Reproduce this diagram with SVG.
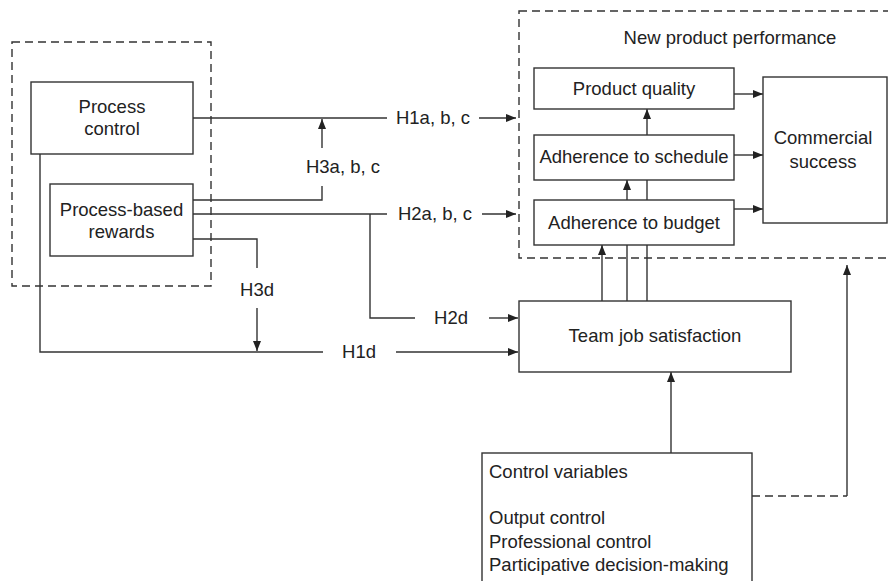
<svg xmlns="http://www.w3.org/2000/svg" width="888" height="581" viewBox="0 0 888 581">
<style>
text{font-family:"Liberation Sans",Arial,sans-serif;font-size:18.5px;fill:#222}
.c{text-anchor:middle}
.box{fill:#fff;stroke:#333;stroke-width:1.4}
.dash{fill:none;stroke:#333;stroke-width:1.4;stroke-dasharray:8,5}
.ln{fill:none;stroke:#333;stroke-width:1.4}
.ar{fill:none;stroke:#333;stroke-width:1.4;marker-end:url(#ah)}
</style>
<defs>
<marker id="ah" markerWidth="10" markerHeight="8" refX="10" refY="4" orient="auto" markerUnits="userSpaceOnUse"><path d="M0,0 L10,4 L0,8 z" fill="#222"/></marker>
</defs>
<rect width="888" height="581" fill="#fff"/>
<g id="connectors">
<path class="ln" d="M193,118 H387"/>
<path class="ar" d="M479,118 H516"/>
<path class="ln" d="M193,200 H322 V186"/>
<path class="ar" d="M322,148 V119"/>
<path class="ln" d="M193,214 H387"/>
<path class="ar" d="M482,214 H516"/>
<path class="ln" d="M370,214 V318 H415"/>
<path class="ar" d="M489,318 H518"/>
<path class="ln" d="M193,239 H257 V268"/>
<path class="ar" d="M257,308 V351"/>
<path class="ln" d="M40,154 V352 H323"/>
<path class="ar" d="M396,352 H518"/>
<path class="ar" d="M602,301 V245"/>
<path class="ar" d="M627,301 V180"/>
<path class="ar" d="M647,301 V109"/>
<path class="ar" d="M734,94 H763"/>
<path class="ar" d="M734,155 H763"/>
<path class="ar" d="M734,209 H763"/>
<path class="ar" d="M671,453 V372"/>
<path class="dash" d="M752,496 H847"/>
<path class="ar" d="M847,496 V265"/>
</g>
<g id="labels">
<text class="c" x="433" y="124">H1a, b, c</text>
<text class="c" x="343" y="173">H3a, b, c</text>
<text class="c" x="435" y="220">H2a, b, c</text>
<text class="c" x="451" y="324">H2d</text>
<text class="c" x="359" y="358">H1d</text>
<text class="c" x="257" y="296">H3d</text>
</g>
<g id="left-group">
<rect class="dash" x="12" y="42" width="199" height="244"/>
</g>
<g id="process-control">
<rect class="box" x="31" y="82" width="162" height="72"/>
<text class="c" x="112" y="113">Process</text>
<text class="c" x="112" y="135">control</text>
</g>
<g id="process-based-rewards">
<rect class="box" x="50" y="184" width="143" height="72"/>
<text class="c" x="121.5" y="216">Process-based</text>
<text class="c" x="121.5" y="238">rewards</text>
</g>
<g id="new-product-performance">
<rect class="dash" x="519" y="11" width="372" height="247"/>
<text class="c" x="730" y="44">New product performance</text>
</g>
<g id="product-quality">
<rect class="box" x="534" y="68" width="200" height="41"/>
<text class="c" x="634" y="95">Product quality</text>
</g>
<g id="adherence-schedule">
<rect class="box" x="534" y="135" width="200" height="45"/>
<text class="c" x="634" y="163">Adherence to schedule</text>
</g>
<g id="adherence-budget">
<rect class="box" x="534" y="200" width="200" height="45"/>
<text class="c" x="634" y="229">Adherence to budget</text>
</g>
<g id="commercial-success">
<rect class="box" x="763" y="77" width="124" height="146"/>
<text class="c" x="823" y="144">Commercial</text>
<text class="c" x="823" y="168">success</text>
</g>
<g id="team-job-satisfaction">
<rect class="box" x="519" y="301" width="272" height="71"/>
<text class="c" x="655" y="342">Team job satisfaction</text>
</g>
<g id="control-variables">
<rect class="box" x="482" y="453" width="270" height="140"/>
<text x="489" y="478">Control variables</text>
<text x="489" y="524">Output control</text>
<text x="489" y="548">Professional control</text>
<text x="489" y="571">Participative decision-making</text>
</g>
</svg>
